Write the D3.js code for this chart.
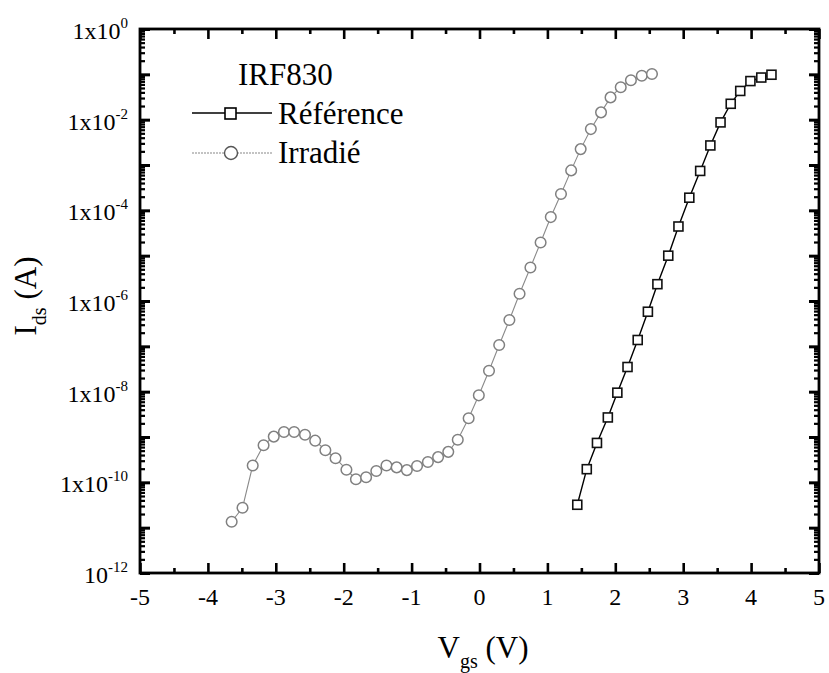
<!DOCTYPE html>
<html><head><meta charset="utf-8">
<script src="https://cdn.jsdelivr.net/npm/d3@7"></script>
<style>body{margin:0;background:#fff}svg{display:block}</style>
</head><body><svg id="c" width="829" height="673" font-family="'Liberation Serif', 'Times New Roman', Times, serif"></svg>
<script>
// ---- data ----
const refVgs = [1.44,1.58,1.73,1.89,2.03,2.18,2.33,2.48,2.62,2.78,2.93,3.09,3.25,3.40,3.55,3.70,3.84,3.99,4.15,4.30];
const refIds = [3.2e-11,1.95e-10,7.4e-10,2.7e-9,9.5e-9,3.5e-8,1.38e-7,5.8e-7,2.35e-6,1.0e-5,4.4e-5,1.9e-4,7.4e-4,2.7e-3,8.7e-3,2.24e-2,4.3e-2,7.1e-2,8.5e-2,9.8e-2];
const irrVgs = [-3.65,-3.49,-3.34,-3.18,-3.03,-2.88,-2.73,-2.57,-2.42,-2.27,-2.12,-1.96,-1.82,-1.67,-1.52,-1.37,-1.22,-1.07,-0.92,-0.76,-0.61,-0.46,-0.32,-0.16,-0.01,0.14,0.29,0.44,0.59,0.75,0.90,1.05,1.20,1.35,1.49,1.64,1.79,1.93,2.08,2.23,2.39,2.54];
const irrIds = [1.35e-11,2.75e-11,2.35e-10,6.6e-10,1.02e-9,1.29e-9,1.29e-9,1.12e-9,8.3e-10,5.1e-10,3.4e-10,1.9e-10,1.17e-10,1.29e-10,1.78e-10,2.35e-10,2.14e-10,1.86e-10,2.3e-10,2.8e-10,3.6e-10,4.7e-10,8.7e-10,2.6e-9,8.3e-9,2.9e-8,1.07e-7,3.8e-7,1.45e-6,5.5e-6,1.95e-5,7.1e-5,2.3e-4,7.6e-4,2.24e-3,6.2e-3,1.45e-2,3.1e-2,5.2e-2,7.4e-2,9.3e-2,1.02e-1];
const xTickValues = [-5,-4,-3,-2,-1,0,1,2,3,4,5];
const xTickLabels = ["-5","-4","-3","-2","-1","0","1","2","3","4","5"];
const yLabelValues = [1,1e-2,1e-4,1e-6,1e-8,1e-10,1e-12];
const yLabelBases = ["1x10","1x10","1x10","1x10","1x10","1x10","10"];
const yLabelExps = ["0","-2","-4","-6","-8","-10","-12"];
const legendTitle = "IRF830";
const seriesNames = ["Référence","Irradié"];

// ---- layout ----
const FONT = "'Liberation Serif', 'Times New Roman', Times, serif";
const L = 140, R = 819, T = 29, B = 573;
const svg = d3.select("#c");
const x = d3.scaleLinear().domain([-5,5]).range([L,R]);
const y = d3.scaleLog().domain([1e-12,1]).range([B,T]);

const xMinor = d3.range(-4.5,5,1);
const yMajor = d3.range(-12,1).map(e => Math.pow(10,e));
const yMinor = [];
for (let e=-12;e<0;e++) for (let k=2;k<=9;k++) yMinor.push(k*Math.pow(10,e));

function styleAxis(g, w){
  g.select(".domain").remove();
  g.selectAll("line").attr("stroke","#000").attr("stroke-width",w);
  g.selectAll("text").remove();
}
svg.append("g").attr("transform",`translate(0,${B})`).call(d3.axisBottom(x).tickValues(xTickValues).tickSize(-10)).call(g=>styleAxis(g,2.6));
svg.append("g").attr("transform",`translate(0,${B})`).call(d3.axisBottom(x).tickValues(xMinor).tickSize(-5)).call(g=>styleAxis(g,2.6));
svg.append("g").attr("transform",`translate(0,${T})`).call(d3.axisTop(x).tickValues(xTickValues).tickSize(-10)).call(g=>styleAxis(g,2.6));
svg.append("g").attr("transform",`translate(0,${T})`).call(d3.axisTop(x).tickValues(xMinor).tickSize(-5)).call(g=>styleAxis(g,2.6));
svg.append("g").attr("transform",`translate(${L},0)`).call(d3.axisLeft(y).tickValues(yMajor).tickSize(-10)).call(g=>styleAxis(g,3));
svg.append("g").attr("transform",`translate(${L},0)`).call(d3.axisLeft(y).tickValues(yMinor).tickSize(-5)).call(g=>styleAxis(g,2.2));
svg.append("g").attr("transform",`translate(${R},0)`).call(d3.axisRight(y).tickValues(yMajor).tickSize(-10)).call(g=>styleAxis(g,3));
svg.append("g").attr("transform",`translate(${R},0)`).call(d3.axisRight(y).tickValues(yMinor).tickSize(-5)).call(g=>styleAxis(g,2.2));
svg.append("rect").attr("x",L).attr("y",T).attr("width",R-L).attr("height",B-T)
  .attr("fill","none").attr("stroke","#000").attr("stroke-width",2.8);

function txt(sel){ return sel.attr("font-family",FONT).attr("fill","#000"); }

svg.append("g").selectAll("text").data(xTickValues).join("text").call(txt)
  .attr("x",d=>x(d)).attr("y",B+32).attr("text-anchor","middle")
  .attr("font-size",24).text((d,i)=>xTickLabels[i]);
const yl = svg.append("g").selectAll("text").data(yLabelValues).join("text").call(txt)
  .attr("x",L-12).attr("y",d=>y(d)+10).attr("text-anchor","end").attr("font-size",24);
yl.append("tspan").text((d,i)=>yLabelBases[i]);
yl.append("tspan").attr("dy",-11).attr("font-size",15).text((d,i)=>yLabelExps[i]);

const xt = svg.append("text").call(txt).attr("x",483).attr("y",658).attr("text-anchor","middle").attr("font-size",31);
xt.append("tspan").text("V");
xt.append("tspan").attr("dy",10).attr("font-size",20).text("gs");
xt.append("tspan").attr("dy",-10).text(" (V)");
const yt = svg.append("text").call(txt).attr("transform","translate(36,296) rotate(-90)").attr("text-anchor","middle").attr("font-size",31);
yt.append("tspan").text("I");
yt.append("tspan").attr("dy",10).attr("font-size",20).text("ds");
yt.append("tspan").attr("dy",-10).text(" (A)");

const line = d3.line().x(d=>x(d[0])).y(d=>y(d[1]));
const irr = irrVgs.map((v,i)=>[v,irrIds[i]]);
const ref = refVgs.map((v,i)=>[v,refIds[i]]);
svg.append("path").datum(irr).attr("d",line).attr("fill","none").attr("stroke","#8a8a8a").attr("stroke-width",1.1);
svg.append("g").selectAll("circle").data(irr).join("circle")
  .attr("cx",d=>x(d[0])).attr("cy",d=>y(d[1])).attr("r",5.3)
  .attr("fill","#fff").attr("stroke","#808080").attr("stroke-width",1.5);
svg.append("path").datum(ref).attr("d",line).attr("fill","none").attr("stroke","#000").attr("stroke-width",1.4);
svg.append("g").selectAll("rect").data(ref).join("rect")
  .attr("x",d=>x(d[0])-4.5).attr("y",d=>y(d[1])-4.5).attr("width",9).attr("height",9)
  .attr("fill","#fff").attr("stroke","#111").attr("stroke-width",1.6);

svg.append("text").call(txt).attr("x",238).attr("y",85).attr("font-size",31).text(legendTitle);
svg.append("line").attr("x1",192).attr("x2",272).attr("y1",113).attr("y2",113).attr("stroke","#000").attr("stroke-width",1.5);
svg.append("rect").attr("x",225).attr("y",108).attr("width",11).attr("height",11).attr("fill","#fff").attr("stroke","#000").attr("stroke-width",1.6);
svg.append("text").call(txt).attr("x",278).attr("y",124).attr("font-size",31).text(seriesNames[0]);
svg.append("line").attr("x1",192).attr("x2",272).attr("y1",153).attr("y2",153).attr("stroke","#888").attr("stroke-width",1.1).attr("stroke-dasharray","2,1");
svg.append("circle").attr("cx",231).attr("cy",153).attr("r",6.5).attr("fill","#fff").attr("stroke","#555").attr("stroke-width",1.4);
svg.append("text").call(txt).attr("x",278).attr("y",163).attr("font-size",31).text(seriesNames[1]);
</script></body></html>
